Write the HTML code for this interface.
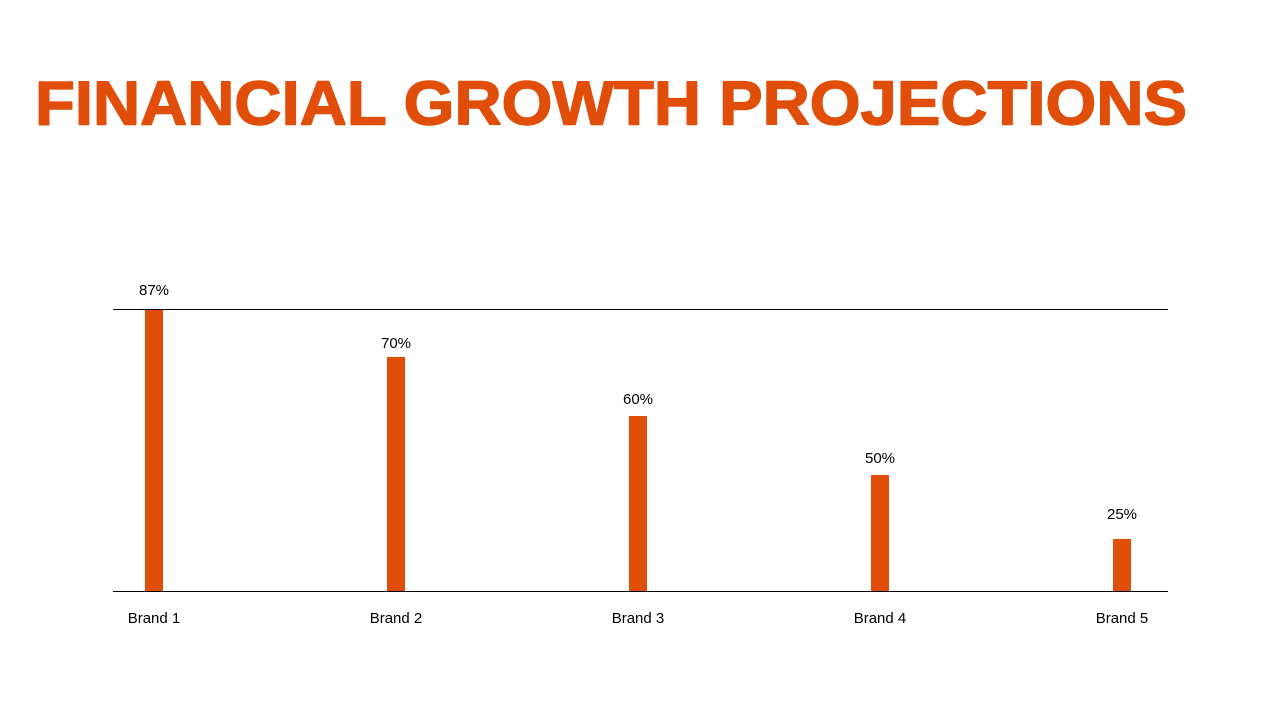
<!DOCTYPE html>
<html><head><meta charset="utf-8"><style>html,body{margin:0;padding:0;background:#fff;}</style></head>
<body>
<svg width="1280" height="720" xmlns="http://www.w3.org/2000/svg">
<text x="35" y="124.5" font-family="Liberation Sans, Arial, sans-serif" font-weight="bold" font-size="62" fill="#E04E0A" stroke="#E04E0A" stroke-width="1.4" stroke-linejoin="round" textLength="1152" lengthAdjust="spacingAndGlyphs">FINANCIAL GROWTH PROJECTIONS</text>
<line x1="113" y1="309.5" x2="1168" y2="309.5" stroke="#000" stroke-width="1"/>
<g fill="#E04E0A">
<rect x="145" y="310" width="18" height="281"/>
<rect x="387" y="357" width="18" height="234"/>
<rect x="629" y="416" width="18" height="175"/>
<rect x="871" y="475" width="18" height="116"/>
<rect x="1113" y="539" width="18" height="52"/>
</g>
<line x1="113" y1="591.5" x2="1168" y2="591.5" stroke="#000" stroke-width="1"/>
<g font-family="Liberation Sans, Arial, sans-serif" font-size="15" fill="#000" text-anchor="middle">
<text x="154" y="295">87%</text>
<text x="396" y="348">70%</text>
<text x="638" y="404">60%</text>
<text x="880" y="463">50%</text>
<text x="1122" y="519">25%</text>
<text x="154" y="623">Brand 1</text>
<text x="396" y="623">Brand 2</text>
<text x="638" y="623">Brand 3</text>
<text x="880" y="623">Brand 4</text>
<text x="1122" y="623">Brand 5</text>
</g>
</svg>
</body></html>
